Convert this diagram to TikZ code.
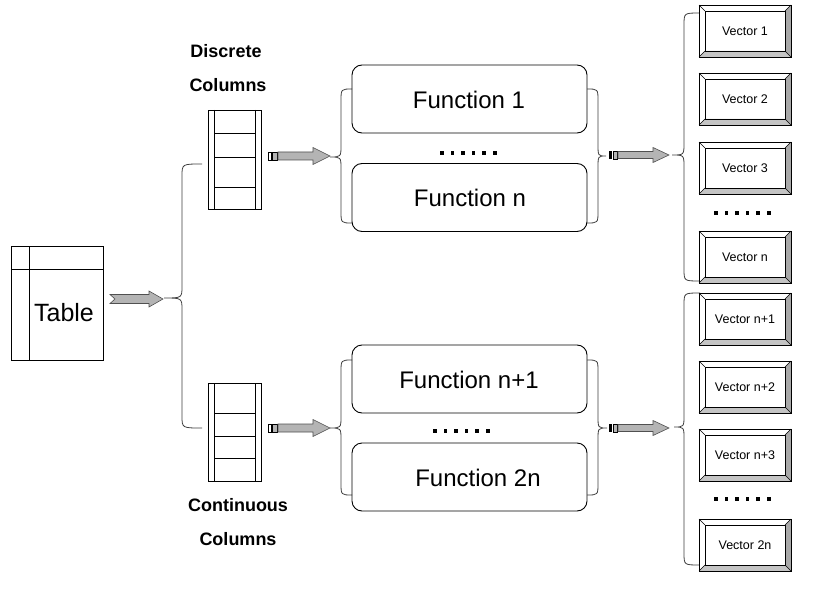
\documentclass[tikz,border=0pt]{standalone}
\usepackage{fontspec}
\setmainfont{Liberation Sans}
\definecolor{arrfill}{HTML}{B4B4B4}
\definecolor{arrdraw}{HTML}{505050}
\definecolor{bevR}{HTML}{A8A8A8}
\definecolor{bevB}{HTML}{C4C4C4}
\definecolor{bracec}{HTML}{404040}
\tikzset{
  fbox/.style={draw, rounded corners=10pt, minimum width=235, minimum height=68, inner sep=0pt},
  ftext/.style={font=\fontsize{24}{26}\selectfont, inner sep=0pt},
  bracestyle/.style={draw=bracec, line width=0.8pt},
  arrstyle/.style={fill=arrfill, draw=arrdraw, line width=0.6pt},
  lbl/.style={font=\fontsize{18}{20}\selectfont\bfseries, inner sep=0pt},
  dotsq/.style={fill=black}
}
% brace: tipx, vertical x, end x, top y, mid y, bottom y
\newcommand\mybrace[6]{%
  \draw[bracestyle] (#3,#4) .. controls (#2,#4) .. (#2,#4+12) -- (#2,#5-12)
    .. controls (#2,#5) .. (#1,#5) .. controls (#2,#5) .. (#2,#5+12)
    -- (#2,#6-12) .. controls (#2,#6) .. (#3,#6);}
% six dots: start x, y
\newcommand\mydots[2]{%
  \foreach \k in {0,...,5} {\fill[dotsq] (#1+\k*10.6,#2-1.8) rectangle ++(3.6,3.6);}}
% vector box: name, top y, text
\newcommand\vecbox[3]{%
  \fill[white] (699,#2) -- (791,#2) -- (785,#2+6) -- (705,#2+6) -- cycle;
  \fill[white] (699,#2) -- (705,#2+6) -- (705,#2+46) -- (699,#2+52) -- cycle;
  \fill[bevR] (791,#2) -- (791,#2+52) -- (785,#2+46) -- (785,#2+6) -- cycle;
  \fill[bevB] (699,#2+52) -- (791,#2+52) -- (785,#2+46) -- (705,#2+46) -- cycle;
  \draw[line width=0.5pt] (699,#2) -- (705,#2+6) (791,#2) -- (785,#2+6)
     (699,#2+52) -- (705,#2+46) (791,#2+52) -- (785,#2+46);
  \draw[line width=0.9pt] (699,#2) rectangle (791,#2+52);
  \node[draw, line width=0.9pt, minimum width=80, minimum height=40, inner sep=0pt,
        font=\fontsize{12.5}{14}\selectfont] (#1) at (745,#2+26) {#3};}
% column box: name, top y, bottom y, line1, line2, line3
\newcommand\colbox[6]{%
  \node[draw, line width=0.9pt, minimum width=53, minimum height=#3-#2, inner sep=0pt]
     (#1) at (234.5,{(#2+#3)/2}) {};
  \draw[line width=0.9pt] (214,#2) -- (214,#3) (255,#2) -- (255,#3)
     (214,#4) -- (255,#4) (214,#5) -- (255,#5) (214,#6) -- (255,#6);}
% small arrow, variant A (left): y
\newcommand\smallarrA[1]{%
  \draw[line width=0.6pt, fill=white] (268,#1-4) rectangle (271,#1+4);
  \draw[line width=0.6pt, fill=arrfill] (272.5,#1-4) rectangle (277,#1+4);
  \path[arrstyle] (278,#1-4) -- (313,#1-4) -- (313,#1-8.5) -- (330,#1) -- (313,#1+8.5)
     -- (313,#1+4) -- (278,#1+4) -- cycle;}
% small arrow, variant B (right): y
\newcommand\smallarrB[1]{%
  \fill[black] (609,#1-4) rectangle (612,#1+4);
  \draw[line width=0.6pt, fill=arrfill] (613,#1-4) rectangle (617,#1+4);
  \path[arrstyle] (618,#1-3.5) -- (653,#1-3.5) -- (653,#1-7.5) -- (669,#1) -- (653,#1+7.5)
     -- (653,#1+3.5) -- (618,#1+3.5) -- cycle;}
\begin{document}
\begin{tikzpicture}[x=1pt,y=-1pt,line width=0.9pt]
\useasboundingbox[fill=white] (0,0) rectangle (818,596);

% Table
\node[draw, line width=0.9pt, minimum width=92, minimum height=114, inner sep=0pt] (table) at (57,303) {};
\draw[line width=0.9pt] (29,246) -- (29,360) (11,269) -- (103,269);
\node[font=\fontsize{25}{27}\selectfont, inner sep=0pt] (tabletxt) at (64,313) {Table};

% big arrow
\coordinate (bigtip) at (163,299);
\path[arrstyle] (110,294.5) -- (149,294.5) -- (149,291) -- (bigtip) -- (149,307)
   -- (149,303.5) -- (110,303.5) -- (115,299) -- cycle;

% left big brace
\mybrace{164}{182}{202}{164}{298}{428}

% column boxes
\colbox{colD}{110}{209}{133}{157}{187}
\colbox{colC}{383}{481}{413}{436}{458}
\node[lbl] (l1) at (226,51) {Discrete};
\node[lbl] (l2) at (228,85) {Columns};
\node[lbl] (l3) at (238,505) {Continuous};
\node[lbl] (l4) at (238,539) {Columns};

% small arrows from columns
\smallarrA{156}
\smallarrA{428}

% function braces (left)
\mybrace{330}{341}{352}{89}{157}{223}
\mybrace{330}{341}{352}{360}{428}{495}

% function boxes
\node[fbox] (f1) at (469.5,99) {};
\node[ftext] at (469,100) {Function 1};
\node[fbox] (fn) at (469.5,197.5) {};
\node[ftext] at (470,198) {Function n};
\node[fbox] (fn1) at (469.5,379) {};
\node[ftext] at (469,380) {Function n+1};
\node[fbox] (f2n) at (469.5,477) {};
\node[ftext] at (478,478) {Function 2n};
\mydots{440}{153}
\mydots{433}{431}

% function braces (right)
\mybrace{606}{598}{587}{89}{156}{223}
\mybrace{607}{598}{587}{360}{428}{495}

% small arrows to vectors
\smallarrB{155}
\smallarrB{428}

% vector braces
\mybrace{672}{684}{700}{13}{155}{281}
\mybrace{674}{684}{700}{293}{427}{565}

% vector boxes
\vecbox{v1}{5}{Vector 1}
\vecbox{v2}{73}{Vector 2}
\vecbox{v3}{142}{Vector 3}
\mydots{714}{213}
\vecbox{vn}{231}{Vector n}
\vecbox{vn1}{293}{Vector n+1}
\vecbox{vn2}{361}{Vector n+2}
\vecbox{vn3}{429}{Vector n+3}
\mydots{714}{499}
\vecbox{v2n}{519}{Vector 2n}
\end{tikzpicture}
\end{document}
